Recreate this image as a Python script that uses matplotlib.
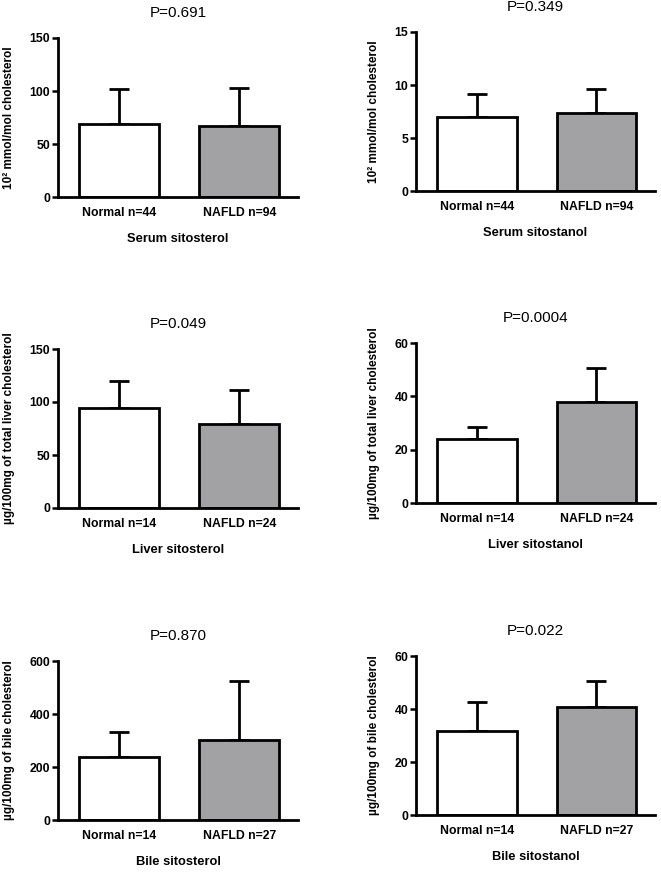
import numpy as np
import matplotlib
matplotlib.use('Agg')
import matplotlib.pyplot as plt

plt.rcParams['font.family'] = ['Liberation Sans', 'DejaVu Sans']

# group labels per panel
groups_serum = ['Normal n=44', 'NAFLD n=94']
groups_liver = ['Normal n=14', 'NAFLD n=24']
groups_bile  = ['Normal n=14', 'NAFLD n=27']

# means and upper SD per panel (Normal, NAFLD)
serum_sitosterol_mean = [68.9, 67.0]
serum_sitosterol_sd   = [32.6, 36.0]
serum_sitostanol_mean = [6.94, 7.34]
serum_sitostanol_sd   = [2.25, 2.29]
liver_sitosterol_mean = [94.7, 78.9]
liver_sitosterol_sd   = [24.8, 32.7]
liver_sitostanol_mean = [24.0, 37.8]
liver_sitostanol_sd   = [4.6, 12.8]
bile_sitosterol_mean  = [237.7, 303.0]
bile_sitosterol_sd    = [94.3, 221.5]
bile_sitostanol_mean  = [31.7, 40.9]
bile_sitostanol_sd    = [10.8, 9.8]

p_values = ['P=0.691', 'P=0.349', 'P=0.049', 'P=0.0004', 'P=0.870', 'P=0.022']
xlabels  = ['Serum sitosterol', 'Serum sitostanol', 'Liver sitosterol',
            'Liver sitostanol', 'Bile sitosterol', 'Bile sitostanol']
ylabels  = ['10\u00b2 mmol/mol cholesterol', '10\u00b2 mmol/mol cholesterol',
            '\u00b5g/100mg of total liver cholesterol', '\u00b5g/100mg of total liver cholesterol',
            '\u00b5g/100mg of bile cholesterol', '\u00b5g/100mg of bile cholesterol']
ymax     = [150, 15, 150, 60, 600, 60]
ystep    = [50, 5, 50, 20, 200, 20]

panels = [
    (groups_serum, serum_sitosterol_mean, serum_sitosterol_sd),
    (groups_serum, serum_sitostanol_mean, serum_sitostanol_sd),
    (groups_liver, liver_sitosterol_mean, liver_sitosterol_sd),
    (groups_liver, liver_sitostanol_mean, liver_sitostanol_sd),
    (groups_bile,  bile_sitosterol_mean,  bile_sitosterol_sd),
    (groups_bile,  bile_sitostanol_mean,  bile_sitostanol_sd),
]

W, H = 661, 872
fig = plt.figure(figsize=(W / 100, H / 100), dpi=100)

# axes boxes in pixels: left, top, right, bottom
boxes = [
    (58, 38, 298, 197),
    (416, 32, 655, 191),
    (58, 349, 298, 508),
    (416, 343, 655, 503),
    (58, 661, 298, 820),
    (416, 656, 655, 815),
]
fills = ['white', '#a2a2a5']

for i, (groups, mean, sd) in enumerate(panels):
    l, t, r, b = boxes[i]
    ax = fig.add_axes([l / W, 1 - b / H, (r - l) / W, (b - t) / H])
    x = np.arange(len(groups))
    ax.bar(x, mean, width=0.667, color=fills, edgecolor='black', linewidth=2.0, zorder=3)
    ax.errorbar(x, mean, yerr=[[0, 0], sd], fmt='none', ecolor='black',
                elinewidth=2.0, capsize=7.5, capthick=2.0, zorder=2)
    ax.set_xlim(-0.51, 1.49)
    ax.set_ylim(0, ymax[i])
    ax.set_yticks(np.arange(0, ymax[i] + 1e-9, ystep[i]))
    ax.set_xticks(x)
    ax.set_xticklabels(groups, fontsize=8.8, fontweight='bold')
    for lab in ax.get_yticklabels():
        lab.set_fontweight('bold')
        lab.set_fontsize(8.8)
    ax.tick_params(axis='x', length=0, pad=7.5)
    ax.tick_params(axis='y', length=4, width=1.8, pad=1.5, direction='out')
    for s in ['top', 'right']:
        ax.spines[s].set_visible(False)
    for s in ['left', 'bottom']:
        ax.spines[s].set_linewidth(2.0)
    ax.spines['left'].set_zorder(4)
    ax.spines['bottom'].set_zorder(4)
    ax.set_xlabel(xlabels[i], fontsize=9.3, fontweight='bold', labelpad=9.5)
    ax.set_ylabel(ylabels[i], fontsize=8.5, fontweight='bold')
    if i % 2 == 0:
        ax.yaxis.set_label_coords(-43 / (r - l), 0.5)
    else:
        ax.yaxis.set_label_coords(-36 / (r - l), 0.5)
    ax.text(0.5, 1 + 25 / (b - t), p_values[i], transform=ax.transAxes,
            ha='center', va='center', fontsize=11)

fig.savefig('out.png', dpi=100)
